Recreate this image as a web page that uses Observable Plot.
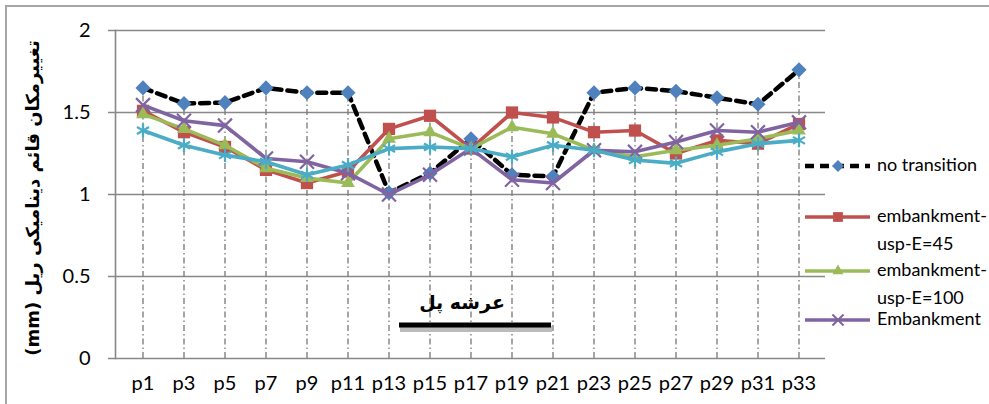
<!DOCTYPE html>
<html><head><meta charset="utf-8">
<script src="https://cdn.jsdelivr.net/npm/d3@7"></script>
<script src="https://cdn.jsdelivr.net/npm/@observablehq/plot@0.6"></script>
<style>
body{margin:0;background:#fff;overflow:hidden}
#wrap{position:relative;width:989px;height:404px;}
#border{position:absolute;left:5px;top:5px;width:1000px;height:420px;border:2px solid #a6a6a6;box-sizing:border-box}
#chart{position:absolute;left:0;top:0}
#overlay{position:absolute;left:0;top:0;pointer-events:none}
</style></head><body>
<div id="wrap"><div id="border"></div><div id="chart"></div><svg id="overlay" width="989" height="404"></svg></div>
<script>
const categories = ["p1","p3","p5","p7","p9","p11","p13","p15","p17","p19","p21","p23","p25","p27","p29","p31","p33"];
const noTransition   = [1.65,1.555,1.56,1.65,1.62,1.62,1.01,1.13,1.34,1.12,1.11,1.62,1.65,1.63,1.59,1.55,1.76];
const embankmentE45  = [1.51,1.38,1.29,1.15,1.07,1.14,1.40,1.48,1.28,1.50,1.47,1.38,1.39,1.25,1.33,1.31,1.43];
const embankmentE100 = [1.49,1.40,1.30,1.16,1.10,1.07,1.34,1.38,1.28,1.41,1.37,1.27,1.23,1.27,1.30,1.34,1.39];
const embankment     = [1.545,1.45,1.42,1.22,1.20,1.13,1.00,1.12,1.28,1.09,1.07,1.27,1.26,1.32,1.39,1.38,1.44];
const series5        = [1.39,1.30,1.24,1.20,1.12,1.18,1.28,1.29,1.28,1.23,1.30,1.27,1.21,1.19,1.26,1.31,1.33];
const yTicks = [0,0.5,1,1.5,2];
const yLabel = "تغییرمکان قائم دینامیکی ریل (mm)";
const annotation = "عرشه پل";

const seriesDefs = [
  {name:"no transition", values:noTransition, line:"#000", marker:"#4F81BD", symbol:"diamond2", r:6.8, dash:"9,6", legend:["no transition"]},
  {name:"embankment-usp-E=45", values:embankmentE45, line:"#C0504D", marker:"#C0504D", symbol:"square2", r:7.8, legend:["embankment-","usp-E=45"]},
  {name:"embankment-usp-E=100", values:embankmentE100, line:"#9BBB59", marker:"#9BBB59", symbol:"triangle2", r:6.6, legend:["embankment-","usp-E=100"]},
  {name:"Embankment", values:embankment, line:"#8064A2", marker:"#8064A2", symbol:"times", r:6.4, legend:["Embankment"]},
  {name:"series5", values:series5, line:"#4BACC6", marker:"#4BACC6", symbol:"asterisk", r:6.6, legend:null}
];

const maxPer = categories.map((c,i)=>({x:c, y:d3.max(seriesDefs, s=>s.values[i])}));

const marks = [
  Plot.ruleY(yTicks.filter(d=>d>0), {stroke:"#888", strokeWidth:1.6, insetLeft:-7}),
  Plot.ruleX(maxPer, {x:"x", y1:0, y2:"y", stroke:"#808080", strokeWidth:1.4, strokeDasharray:"6,3,1.5,3"}),
  Plot.ruleY([0], {stroke:"#888", strokeWidth:1.6, insetLeft:-7}),
  Plot.axisY({ticks:yTicks, tickSize:0, tickPadding:25, tickFormat:d=>String(d), fontSize:20, label:null}),
  Plot.axisX({tickSize:0, tickPadding:17, fontSize:20, label:null}),
  Plot.frame({anchor:"left", stroke:"#888", strokeWidth:1.6})
];

for (const s of seriesDefs) {
  const data = categories.map((c,i)=>({x:c, y:s.values[i]}));
  marks.push(Plot.line(data, {x:"x", y:"y", stroke:s.line, strokeWidth: s.dash?4.5:3.6, strokeDasharray:s.dash, strokeLinejoin:"round"}));
  const strokeOnly = s.symbol==="times" || s.symbol==="asterisk";
  marks.push(Plot.dot(data, strokeOnly
    ? {x:"x", y:"y", symbol:()=>s.symbol, r:s.r, stroke:s.marker, strokeWidth:2.2, fill:"none"}
    : {x:"x", y:"y", symbol:()=>s.symbol, r:s.r, fill:s.marker, stroke:"none"}));
}

const chart = Plot.plot({
  width:989, height:404,
  marginLeft:115, marginRight:164, marginTop:30, marginBottom:46,
  x:{type:"band", domain:categories, padding:0, align:0.5, axis:null},
  y:{domain:[0,2], axis:null},
  symbol:{type:"identity"},
  style:{fontFamily:"Lato, 'Open Sans', sans-serif", fontSize:"20px", color:"#000", background:"transparent"},
  marks
});
document.getElementById("chart").appendChild(chart);

// overlay: y label, annotation, legend
const ov = d3.select("#overlay");
ov.append("text").attr("transform","translate(34,198) rotate(-90)")
  .attr("text-anchor","middle").attr("dominant-baseline","middle")
  .attr("font-family","'DejaVu Sans', sans-serif").attr("font-weight","bold").attr("font-size",18)
  .attr("direction","rtl").attr("unicode-bidi","embed")
  .text(yLabel);

ov.append("text").attr("x",462).attr("y",309).attr("text-anchor","middle")
  .attr("font-family","'DejaVu Sans', sans-serif").attr("font-weight","bold").attr("font-size",19)
  .attr("direction","rtl").text(annotation);
ov.append("line").attr("x1",399).attr("x2",551).attr("y1",327).attr("y2",327)
  .attr("stroke","#bbb").attr("stroke-width",6).attr("transform","translate(1,2)");
ov.append("line").attr("x1",399).attr("x2",551).attr("y1",325).attr("y2",325)
  .attr("stroke","#000").attr("stroke-width",5);

const symMap = {diamond2:d3.symbolDiamond2, square2:d3.symbolSquare2, triangle2:d3.symbolTriangle2, times:d3.symbolTimes, asterisk:d3.symbolAsterisk};
const legendY = [166, 217, 271, 320];
const lineHeight = 28;
let li = 0;
for (const s of seriesDefs) {
  if (!s.legend) continue;
  const y = legendY[li++];
  const g = ov.append("g");
  g.append("line").attr("x1",805).attr("x2",870).attr("y1",y).attr("y2",y)
    .attr("stroke",s.line).attr("stroke-width",s.dash?4.5:3.6).attr("stroke-dasharray",s.dash||null);
  const strokeOnly = s.symbol==="times"||s.symbol==="asterisk";
  const legR = s.r*0.8;
  g.append("path").attr("transform",`translate(838,${y})`)
    .attr("d", d3.symbol(symMap[s.symbol], Math.PI*legR*legR)())
    .attr("fill", strokeOnly?"none":s.marker).attr("stroke", strokeOnly?s.marker:"none").attr("stroke-width",2);
  s.legend.forEach((t,k)=>{
    g.append("text").attr("x",877).attr("y",y+k*lineHeight).attr("dominant-baseline","middle")
      .attr("font-family","Lato, 'Open Sans', sans-serif").attr("font-size",18).text(t);
  });
}
</script>
</body></html>
